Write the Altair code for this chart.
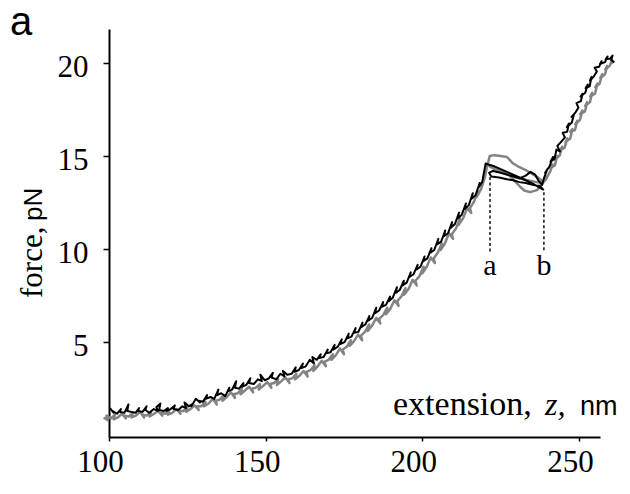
import altair as alt
import pandas as pd

# ---- black trace: extension (nm) and force (pN) ----
black_x = [100.3, 101.5, 101.1, 102.6, 103.8, 103.4, 104.9, 106.2, 105.8, 107.1,
           108.5, 109.6, 109.2, 110.7, 112.0, 111.6, 112.9, 114.3, 115.6, 115.1,
           116.4, 116.0, 117.5, 118.8, 118.3, 119.7, 121.0, 120.6, 122.1, 123.4,
           124.6, 124.1, 125.5, 126.8, 126.3, 127.7, 129.0, 128.6, 130.0, 131.3,
           130.9, 132.4, 133.6, 134.9, 134.5, 135.8, 137.1, 138.4, 137.9, 139.3,
           140.6, 140.2, 141.5, 142.9, 142.4, 143.8, 145.1, 144.7, 146.2, 147.5,
           148.8, 148.3, 149.7, 151.0, 152.3, 151.9, 153.4, 154.7, 156.0, 155.5,
           156.9, 158.3, 159.6, 159.2, 160.6, 161.9, 161.4, 162.8, 164.1, 165.4,
           164.9, 166.3, 167.6, 167.1, 168.5, 169.8, 169.3, 170.7, 172.0, 171.6,
           173.0, 174.3, 173.8, 175.2, 176.5, 176.1, 177.4, 178.7, 178.3, 179.6,
           180.9, 180.5, 181.8, 183.1, 182.7, 184.0, 185.3, 184.9, 186.2, 187.5,
           187.1, 188.4, 189.7, 189.3, 190.6, 191.9, 191.5, 192.8, 194.1, 193.7,
           195.0, 196.3, 195.9, 197.2, 198.5, 198.1, 199.4, 200.7, 200.3, 201.6,
           202.9, 202.5, 203.8, 205.1, 204.7, 206.0, 207.3, 206.9, 208.2, 209.5,
           209.1, 210.4, 211.7, 211.3, 212.6, 213.9, 213.5, 214.8, 216.1, 215.7,
           217.0, 218.3, 217.9, 219.1, 220.2,
           221.0, 223.0, 225.0, 227.0, 229.0, 231.0, 233.0, 235.0, 237.0, 238.6,
           237.5, 235.5, 233.0, 231.0, 229.0, 227.0, 224.5, 222.0, 221.3, 222.5,
           225.0, 228.0, 231.0, 233.0, 234.5, 236.0, 237.0, 238.2,
           238.8, 239.9, 239.2, 240.6, 241.7, 240.9, 242.2, 242.8, 243.9, 243.1,
           244.5, 245.5, 244.8, 246.2, 246.8, 246.1, 247.7, 248.4, 247.6, 248.9,
           249.8, 249.2, 250.6, 251.1, 250.5, 252.0, 252.8, 252.1, 253.4, 254.0,
           253.5, 254.8, 255.7, 255.0, 256.4, 257.2, 256.7, 258.3, 259.1, 258.5,
           260.0, 260.7, 260.3, 261.2]
black_f = [1.45, 1.20, 1.30, 1.15, 1.40, 1.25, 1.20, 1.65, 1.30, 1.25,
           1.20, 1.45, 1.30, 1.25, 1.55, 1.35, 1.20, 1.40, 1.30, 1.50,
           1.70, 1.35, 1.30, 1.45, 1.30, 1.40, 1.60, 1.40, 1.35, 1.55,
           1.45, 1.75, 1.55, 1.70, 1.55, 1.95, 1.75, 1.85, 1.80, 2.15,
           1.95, 2.05, 1.95, 2.45, 2.15, 2.25, 2.10, 2.55, 2.35, 2.45,
           2.90, 2.55, 2.50, 2.80, 2.60, 2.70, 3.05, 2.80, 2.75, 3.00,
           2.90, 3.25, 2.95, 3.05, 3.35, 3.10, 3.00, 3.30, 3.15, 3.45,
           3.25, 3.30, 3.65, 3.40, 3.50, 3.85, 3.60, 3.70, 4.05, 3.85,
           4.20, 4.05, 4.35, 4.15, 4.20, 4.60, 4.40, 4.45, 4.85, 4.60,
           4.75, 5.15, 4.90, 5.00, 5.45, 5.20, 5.30, 5.75, 5.50, 5.55,
           6.05, 5.80, 5.95, 6.40, 6.15, 6.30, 6.85, 6.55, 6.70, 7.15,
           6.90, 7.00, 7.45, 7.20, 7.40, 7.95, 7.65, 7.80, 8.30, 8.05,
           8.20, 8.75, 8.50, 8.65, 9.15, 8.90, 9.05, 9.60, 9.35, 9.50,
           10.05, 9.80, 9.95, 10.55, 10.25, 10.40, 11.00, 10.70, 10.85, 11.45,
           11.15, 11.35, 11.95, 11.65, 11.85, 12.45, 12.15, 12.35, 13.00, 12.70,
           12.90, 13.55, 13.30, 13.60, 14.60,
           14.55, 14.45, 14.30, 14.15, 14.00, 13.85, 13.70, 13.55, 13.35, 13.20,
           13.40, 13.45, 13.55, 13.60, 13.70, 13.75, 13.85, 13.90, 14.10, 14.20,
           14.10, 13.95, 13.80, 13.95, 14.15, 14.00, 13.70, 13.45,
           13.80, 14.30, 14.10, 14.45, 14.95, 14.70, 14.85, 15.35, 15.25, 15.55,
           15.80, 16.00, 16.25, 16.30, 16.75, 16.55, 16.80, 17.25, 17.10, 17.35,
           17.60, 17.85, 17.95, 18.35, 18.20, 18.40, 18.85, 18.65, 18.75, 19.25,
           19.05, 19.30, 19.55, 19.75, 19.80, 20.10, 19.95, 20.05, 20.35, 20.20,
           20.25, 20.40, 20.15, 20.05]

# ---- gray trace ----
gray_x = [98.3, 99.6, 99.2, 100.6, 101.9, 101.5, 102.8, 104.1, 105.4, 105.0,
          106.3, 107.6, 107.2, 108.6, 109.9, 111.2, 110.8, 112.1, 113.4, 113.0,
          114.4, 115.7, 117.0, 116.6, 117.9, 119.2, 118.8, 120.2, 121.5, 122.8,
          122.4, 123.7, 125.0, 124.6, 126.0, 127.3, 128.6, 128.2, 129.5, 130.8,
          130.4, 131.8, 133.1, 134.4, 134.0, 135.3, 136.6, 136.2, 137.6, 138.9,
          140.2, 139.8, 141.1, 142.4, 142.0, 143.4, 144.7, 146.0, 145.6, 146.9,
          148.2, 147.8, 149.2, 150.5, 151.8, 151.4, 152.7, 154.0, 153.6, 155.0,
          156.3, 157.6, 157.2, 158.5, 159.8, 159.4, 160.8, 162.1, 163.4, 163.0,
          164.3, 165.6, 165.2, 166.6, 167.9, 169.2, 168.8, 170.1, 171.4, 171.0,
          172.4, 173.7, 175.0, 174.6, 175.9, 177.2, 176.8, 178.2, 179.5, 180.8,
          180.4, 181.7, 183.0, 182.6, 184.0, 185.3, 186.6, 186.2, 187.5, 188.8,
          188.4, 189.8, 191.1, 192.4, 192.0, 193.3, 194.6, 194.2, 195.6, 196.9,
          198.2, 197.8, 199.1, 200.4, 200.0, 201.4, 202.7, 204.0, 203.6, 204.9,
          206.2, 205.8, 207.2, 208.5, 209.8, 209.4, 210.7, 212.0, 211.6, 213.0,
          214.3, 215.6, 215.2, 216.5, 217.8, 217.4, 218.8, 220.0, 220.6,
          221.5, 223.0, 225.0, 227.0, 229.0, 231.0, 233.5, 236.0, 238.0, 238.3,
          236.6, 234.4, 232.5, 231.2, 229.0, 227.0, 224.0, 221.5, 223.5, 226.5,
          230.0, 233.5, 236.5,
          238.5, 239.8, 239.3, 240.9, 241.6, 240.8, 242.3, 243.0, 242.4, 243.9,
          244.6, 244.0, 245.4, 246.3, 245.7, 247.2, 247.9, 247.2, 248.7, 249.5,
          248.8, 250.3, 251.1, 250.4, 251.9, 252.6, 252.0, 253.5, 254.2, 253.6,
          255.1, 255.9, 255.2, 256.6, 257.4, 256.8, 258.3, 259.0, 258.4, 259.8,
          260.6, 260.0, 261.3]
gray_f = [0.95, 0.80, 1.05, 0.90, 1.10, 0.85, 0.95, 1.15, 0.90, 1.05,
          1.00, 1.20, 0.95, 1.05, 1.25, 0.95, 1.10, 1.05, 1.25, 1.00,
          1.15, 1.30, 1.05, 1.20, 1.15, 1.35, 1.10, 1.20, 1.40, 1.15,
          1.30, 1.30, 1.50, 1.25, 1.40, 1.60, 1.35, 1.55, 1.55, 1.80,
          1.55, 1.70, 1.95, 1.65, 1.85, 1.90, 2.15, 1.85, 2.05, 2.30,
          2.00, 2.20, 2.25, 2.50, 2.20, 2.40, 2.60, 2.30, 2.50, 2.55,
          2.75, 2.45, 2.65, 2.85, 2.55, 2.75, 2.80, 3.00, 2.70, 2.90,
          3.10, 2.80, 3.00, 3.05, 3.30, 3.00, 3.20, 3.45, 3.15, 3.40,
          3.50, 3.75, 3.45, 3.70, 4.00, 3.70, 3.95, 4.05, 4.35, 4.05,
          4.30, 4.65, 4.35, 4.60, 4.75, 5.10, 4.80, 5.05, 5.40, 5.10,
          5.35, 5.55, 5.95, 5.60, 5.90, 6.30, 6.00, 6.25, 6.45, 6.85,
          6.50, 6.80, 7.25, 6.95, 7.20, 7.45, 7.90, 7.55, 7.85, 8.35,
          8.05, 8.30, 8.55, 9.05, 8.70, 9.05, 9.55, 9.25, 9.50, 9.80,
          10.30, 9.95, 10.30, 10.85, 10.55, 10.80, 11.10, 11.65, 11.30, 11.65,
          12.20, 11.95, 12.20, 12.55, 13.10, 12.80, 13.25, 13.90, 14.40,
          15.00, 15.05, 15.00, 14.95, 14.60, 14.40, 14.20, 13.95, 13.70, 13.50,
          13.17, 13.06, 13.15, 13.35, 13.75, 14.10, 14.30, 14.45, 14.25, 14.05,
          13.85, 13.70, 13.60,
          13.55, 13.90, 13.70, 14.20, 14.55, 14.35, 14.50, 15.00, 14.80, 15.05,
          15.50, 15.30, 15.45, 15.95, 15.75, 15.95, 16.45, 16.30, 16.40, 16.90,
          16.70, 16.95, 17.45, 17.25, 17.40, 17.90, 17.70, 17.90, 18.40, 18.20,
          18.35, 18.90, 18.70, 18.90, 19.40, 19.20, 19.40, 19.85, 19.65, 19.85,
          20.15, 19.95, 20.10]

x_ticks = [100, 150, 200, 250]
y_ticks = [5, 10, 15, 20]

marker_labels = ["a", "b"]
marker_x = [221.6, 238.8]
marker_top = [13.87, 13.06]
marker_bottom = [9.84, 9.84]
marker_label_f = [8.6, 8.6]

df_black = pd.DataFrame({"x": black_x, "f": black_f, "i": range(len(black_x))})
df_gray = pd.DataFrame({"x": gray_x, "f": gray_f, "i": range(len(gray_x))})
df_mark = pd.DataFrame({"x": marker_x, "f": marker_top, "f2": marker_bottom,
                        "lf": marker_label_f, "label": marker_labels})

SERIF = "Liberation Serif"
SANS = "Liberation Sans"

xscale = alt.Scale(domain=[100, 256.7], nice=False, zero=False)
yscale = alt.Scale(domain=[-0.1, 21.83], nice=False, zero=False)

xaxis = alt.Axis(values=x_ticks, title=None, grid=False, domainColor="black",
                 domainWidth=2, tickColor="black", tickWidth=1.5, tickSize=4,
                 labelFont=SERIF, labelFontSize=31, labelColor="black",
                 labelPadding=6, labelOffset=-9, labelFlush=False)
yaxis = alt.Axis(values=y_ticks, title=None, grid=False, domainColor="black",
                 domainWidth=2, tickColor="black", tickWidth=1.5, tickSize=6,
                 labelFont=SERIF, labelFontSize=31, labelColor="black",
                 labelPadding=15, labelOffset=4, labelFlush=False)

X = alt.X("x:Q", scale=xscale, axis=xaxis)
Y = alt.Y("f:Q", scale=yscale, axis=yaxis)

gray_line = alt.Chart(df_gray).mark_line(
    color="#838383", strokeWidth=2.5, strokeJoin="round"
).encode(x=X, y=Y, order="i:Q")

black_line = alt.Chart(df_black).mark_line(
    color="black", strokeWidth=2.0, strokeJoin="round"
).encode(x=X, y=Y, order="i:Q")

rules = alt.Chart(df_mark).mark_rule(
    color="black", strokeWidth=1.4, strokeDash=[3, 2.5]
).encode(x=X, y=Y, y2="f2:Q")

mark_text = alt.Chart(df_mark).mark_text(
    font=SERIF, fontSize=30, color="black", align="center", baseline="alphabetic"
).encode(x=X, y=alt.Y("lf:Q", scale=yscale, axis=yaxis), text="label:N")

txt = pd.DataFrame({"t": [""]})

def label(text, px, py, font, size, style="normal", angle=0, align="left"):
    kw = dict(font=font, fontSize=size, color="black", align=align,
              baseline="alphabetic", text=text, fontStyle=style)
    if angle:
        kw["angle"] = angle
    return alt.Chart(txt).mark_text(**kw).encode(x=alt.value(px), y=alt.value(py))

labels = [
    label("extension,", 284, 386, SERIF, 34),
    label("z,", 436, 386, SERIF, 32, style="italic"),
    label("nm", 471, 386, SANS, 27),
    label("force,", -67, 269, SERIF, 31, angle=270),
    label("pN", -67, 192, SANS, 26, angle=270),
    label("a", -99, 6, SANS, 40),
]

chart = alt.layer(gray_line, black_line, rules, mark_text, *labels).properties(
    width=491, height=408,
    padding={"left": 109, "top": 29, "right": 30, "bottom": 57},
    autosize=alt.AutoSizeParams(type="none"),
).configure_view(stroke=None)

chart.save("out.html", embed_options={"renderer": "svg", "actions": False})
